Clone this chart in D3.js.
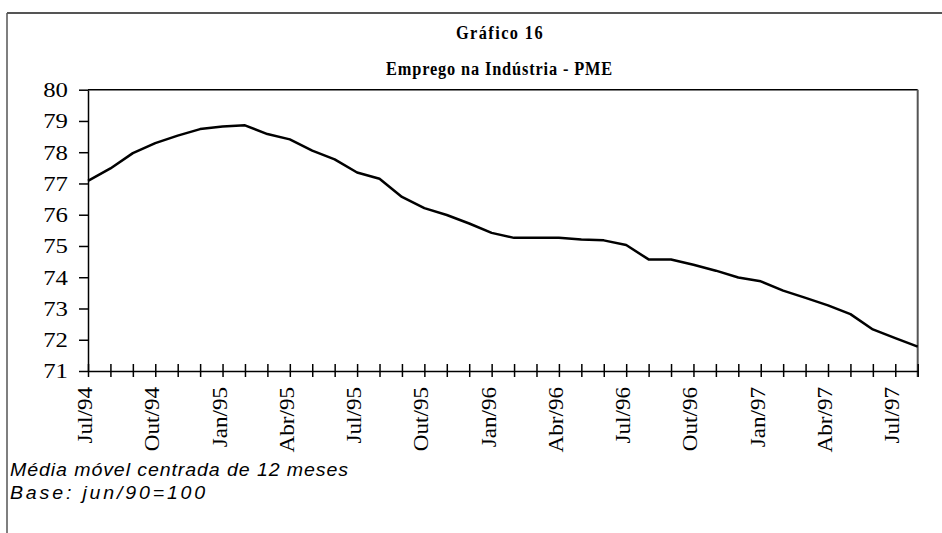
<!DOCTYPE html>
<html><head><meta charset="utf-8">
<script src="https://cdn.jsdelivr.net/npm/d3@7"></script>
<style>
html,body{margin:0;padding:0;background:#fff;}
svg{display:block;}
</style></head>
<body>
<svg id="chart" width="942" height="533"></svg>
<script>
const title1 = "Gráfico 16";
const title2 = "Emprego na Indústria - PME";
const notes = ["Média móvel centrada de 12 meses", "Base: jun/90=100"];
const categories = ["Jul/94","Ago/94","Set/94","Out/94","Nov/94","Dez/94","Jan/95","Fev/95","Mar/95","Abr/95","Mai/95","Jun/95",
  "Jul/95","Ago/95","Set/95","Out/95","Nov/95","Dez/95","Jan/96","Fev/96","Mar/96","Abr/96","Mai/96","Jun/96",
  "Jul/96","Ago/96","Set/96","Out/96","Nov/96","Dez/96","Jan/97","Fev/97","Mar/97","Abr/97","Mai/97","Jun/97","Jul/97","Ago/97"];
const values = [77.08,77.48,77.97,78.29,78.53,78.74,78.82,78.86,78.58,78.41,78.05,77.77,
  77.35,77.15,76.57,76.21,75.99,75.72,75.42,75.26,75.26,75.26,75.21,75.18,
  75.03,74.57,74.57,74.40,74.21,73.99,73.87,73.57,73.34,73.10,72.82,72.33,72.05,71.78];
const labelEvery = 3;
const yTicks = [71,72,73,74,75,76,77,78,79,80];

const SERIF = "'Liberation Serif', 'Times New Roman', Times, serif";
const SANS = "'Liberation Sans', Arial, Helvetica, sans-serif";

const svg = d3.select("#chart");
const L = 88, R = 917.7, T = 89.7, B = 371;
const x = d3.scalePoint().domain(categories).range([L, R]);
const y = d3.scaleLinear().domain([71, 80]).range([B, T]);

function fitText(sel, target, sx) {
  const w = sel.node().getComputedTextLength();
  const n = sel.text().length;
  const ls = (target / sx - w) / n;
  sel.attr("letter-spacing", ls);
  return ls;
}

// outer frame
svg.append("line").attr("x1",7).attr("x2",942).attr("y1",13).attr("y2",13).attr("stroke","#555").attr("stroke-width",2);
svg.append("line").attr("x1",7).attr("x2",7).attr("y1",13).attr("y2",533).attr("stroke","#555").attr("stroke-width",1.5);

// titles
const tsx = 0.86;
const t1 = svg.append("text").attr("transform",`translate(456,39) scale(${tsx},1)`)
  .style("font-family",SERIF).attr("font-weight","bold").attr("font-size",19).text(title1);
fitText(t1, 88, tsx);
const t2 = svg.append("text").attr("transform",`translate(386,75) scale(${tsx},1)`)
  .style("font-family",SERIF).attr("font-weight","bold").attr("font-size",19).text(title2);
fitText(t2, 227, tsx);

// plot box top/right
svg.append("line").attr("x1",L).attr("x2",R).attr("y1",T).attr("y2",T).attr("stroke","#000").attr("stroke-width",1.5);
svg.append("line").attr("x1",R).attr("x2",R).attr("y1",T).attr("y2",B+6).attr("stroke","#555").attr("stroke-width",2);

// y axis
const yAxis = svg.append("g").attr("transform",`translate(${L},0)`)
  .call(d3.axisLeft(y).tickValues(yTicks).tickSize(9).tickSizeOuter(0).tickFormat(d3.format("d")));
yAxis.attr("font-family",null);
yAxis.select(".domain").attr("stroke","#000").attr("stroke-width",1.5);
yAxis.selectAll(".tick line").attr("stroke","#000").attr("stroke-width",1.5);
yAxis.selectAll(".tick text")
  .attr("x",0).attr("dy",null)
  .attr("dominant-baseline","central")
  .attr("transform","translate(-20,0) scale(1.18,1)")
  .style("font-family",SERIF).attr("font-size",21).attr("fill","#000");

// x axis
const xAxis = svg.append("g").attr("transform",`translate(0,${B})`)
  .call(d3.axisBottom(x).tickSize(6).tickSizeOuter(0).tickFormat(""));
xAxis.select(".domain").attr("stroke","#000").attr("stroke-width",1.5);
xAxis.selectAll(".tick line").attr("y1",-7).attr("y2",6).attr("stroke","#000").attr("stroke-width",1.5);
xAxis.selectAll(".tick text").remove();
const xl = svg.append("g");
categories.forEach((c,i)=>{
  if (i % labelEvery !== 0) return;
  xl.append("text")
    .attr("transform",`translate(${x(c)+4},387) rotate(-90) scale(1.1,1)`)
    .attr("text-anchor","end")
    .style("font-family",SERIF).attr("font-size",21).attr("fill","#000")
    .text(c);
});

// line
const line = d3.line().x((d,i)=>x(categories[i])).y(d=>y(d));
svg.append("path").datum(values).attr("d",line).attr("fill","none")
  .attr("stroke","#000").attr("stroke-width",2.5).attr("stroke-linejoin","round");

// notes
const sx = 1.12;
const noteLen = [339, 198];
notes.forEach((n,i)=>{
  const t = svg.append("text").attr("transform",`translate(10,${476+i*23}) scale(${sx},1)`)
    .style("font-family",SANS).attr("font-style","italic").attr("font-size",17.5)
    .attr("fill","#000").text(n);
  fitText(t, noteLen[i], sx);
});
</script>
</body></html>
